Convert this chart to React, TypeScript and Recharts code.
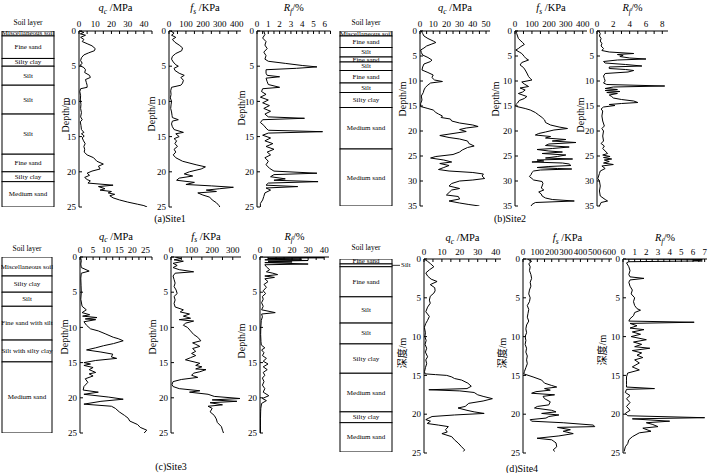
import React from 'react';
import { LineChart, Line, XAxis, YAxis, BarChart, Bar } from 'recharts';

const FONT = "'Liberation Serif', 'Times New Roman', 'Noto Sans CJK SC', serif";

type Pt = [number, number];

// ---------------- Site 1 ----------------
const site1Qc: Pt[] = [
  [0, 0.5], [0.2, 3], [0.4, 0.8], [0.6, 4], [0.9, 1], [1.2, 3], [1.5, 2], [1.8, 5], [2.1, 8], [2.5, 10], [2.8, 9.5],
  [3.1, 6], [3.4, 3], [3.8, 1.5], [4.2, 1], [4.6, 2], [4.9, 0.5], [5.2, 3], [5.5, 4], [5.9, 3.5], [6.3, 6.5], [6.6, 7],
  [6.9, 4], [7.3, 4.5], [7.7, 5], [8.0, 5], [8.2, 1], [8.6, 0.5], [9.2, 1], [9.8, 0.8], [10.4, 1.2], [11, 1], [11.6, 1.5],
  [12.2, 1], [12.6, 2], [12.9, 0.8], [13.4, 1.2], [14, 1.5], [14.4, 3], [14.6, 1.5], [14.9, 3.2], [15.2, 2], [15.6, 2.8],
  [16, 3.8], [16.4, 3], [16.8, 3.5], [17.2, 3.2], [17.6, 5], [18, 9], [18.5, 11], [18.9, 15], [19.2, 12], [19.6, 13],
  [19.9, 8], [20.2, 5], [20.5, 6.5], [20.8, 3.5], [21.1, 5], [21.3, 7], [21.6, 5.5], [21.9, 21], [22.1, 12], [22.4, 16],
  [22.6, 13], [22.8, 20], [23, 18], [23.2, 22], [23.4, 19], [23.7, 21], [24, 25], [24.3, 30], [24.6, 36], [24.8, 40], [25, 42],
];
const site1Fs: Pt[] = [
  [0, 10], [0.3, 30], [0.6, 15], [0.9, 40], [1.2, 20], [1.6, 35], [2.0, 60], [2.4, 80], [2.8, 75], [3.2, 40], [3.6, 20],
  [4.0, 15], [4.4, 25], [4.8, 40], [5.0, 55], [5.3, 30], [5.6, 35], [6.0, 60], [6.3, 90], [6.6, 70], [7.0, 85], [7.4, 80],
  [7.7, 70], [8.0, 15], [8.5, 10], [9, 12], [9.5, 8], [10, 15], [10.5, 12], [11, 10], [11.5, 15], [12, 18], [12.3, 20],
  [12.6, 55], [12.8, 20], [13.2, 15], [13.6, 20], [14, 30], [14.4, 85], [14.6, 40], [15, 60], [15.3, 30], [15.6, 45],
  [16, 35], [16.4, 50], [16.8, 30], [17.2, 40], [17.6, 25], [18, 40], [18.5, 80], [19, 160], [19.3, 215], [19.6, 190],
  [20, 120], [20.3, 90], [20.6, 140], [20.9, 60], [21.2, 45], [21.5, 150], [21.8, 100], [22, 250], [22.2, 380], [22.4, 300],
  [22.6, 220], [22.8, 280], [23.0, 170], [23.3, 200], [23.6, 240], [24, 255], [24.4, 280], [24.8, 295], [25, 300],
];
const site1Rf: Pt[] = [
  [0, 0.6], [0.5, 0.7], [1, 0.5], [1.5, 0.8], [2, 0.7], [2.5, 0.9], [3, 0.6], [3.5, 0.8], [4, 0.7], [4.3, 1.0], [4.6, 2.5],
  [4.9, 4.0], [5.1, 5.3], [5.3, 3.5], [5.5, 0.8], [6, 0.8], [6.3, 0.9], [6.5, 2.0], [6.7, 0.8], [7.2, 0.9], [7.6, 1.0],
  [8.0, 2.0], [8.2, 0.5], [8.6, 0.4], [9, 0.8], [9.4, 0.3], [9.8, 1.0], [10.2, 0.5], [10.6, 1.1], [11, 0.6], [11.4, 1.2],
  [11.8, 0.7], [12.2, 1.0], [12.4, 4.2], [12.6, 0.5], [13, 0.3], [13.4, 0.6], [13.8, 0.8], [14.1, 1.0], [14.3, 5.8],
  [14.5, 1.0], [14.8, 0.5], [15.2, 1.2], [15.6, 0.7], [16, 1.4], [16.4, 0.8], [16.8, 1.5], [17.2, 0.9], [17.6, 1.2],
  [18, 0.7], [18.5, 1.0], [19, 0.8], [19.5, 1.1], [19.9, 1.5], [20.2, 5.3], [20.4, 1.5], [20.7, 1.2], [21, 2.5], [21.2, 1.5],
  [21.4, 5.4], [21.6, 1.0], [21.9, 0.8], [22.1, 3.6], [22.3, 0.8], [22.6, 1.2], [23, 0.7], [23.5, 0.6], [24, 0.5],
  [24.5, 0.3], [25, 0.3],
];

// ---------------- Site 2 ----------------
const site2Qc: Pt[] = [
  [0, 1], [0.5, 2], [1, 3], [1.5, 6], [2, 10], [2.3, 12], [2.6, 9], [3, 5], [3.4, 3], [3.8, 0.5], [4.3, 1], [4.8, 2],
  [5.3, 6], [5.8, 9], [6.1, 8], [6.6, 3], [7.2, 2], [7.8, 1.5], [8.3, 6], [8.8, 10], [9.3, 9], [9.8, 11], [10.1, 17],
  [10.4, 8], [10.8, 6], [11.3, 4], [11.8, 3], [12.3, 2.5], [13, 1], [13.8, 1.5], [14.5, 0.5], [15.1, 0.5], [15.5, 6],
  [15.8, 10], [16.3, 12], [16.6, 14], [17, 17], [17.3, 16], [17.6, 23], [18, 24], [18.4, 30], [18.8, 40], [19.1, 44],
  [19.4, 35], [19.7, 30], [20.1, 35], [20.5, 25], [20.9, 15], [21.3, 22], [21.6, 30], [22, 36], [22.5, 37], [23, 41],
  [23.3, 36], [23.8, 32], [24.2, 30], [24.7, 25], [25.1, 12], [25.4, 8], [25.8, 18], [26.2, 24], [26.5, 15], [26.9, 22],
  [27.3, 18], [27.7, 14], [28, 22], [28.3, 40], [28.6, 48], [29, 47], [29.5, 49], [29.8, 40], [30, 30], [30.5, 24],
  [31, 22], [31.5, 30], [31.8, 24], [32.3, 22], [32.8, 20], [33.1, 29], [33.6, 30], [34, 22], [34.4, 30], [34.7, 37], [35, 45],
];
const site2Fs: Pt[] = [
  [0, 5], [0.5, 10], [1, 15], [1.5, 20], [2, 35], [2.3, 45], [2.7, 55], [3.1, 35], [3.5, 20], [3.8, 5], [4.2, 25], [4.5, 40],
  [5.1, 55], [5.5, 65], [5.8, 80], [6.3, 40], [6.8, 30], [7.3, 50], [7.8, 60], [8.4, 70], [9.1, 80], [9.5, 90], [9.8, 100],
  [10.2, 40], [10.6, 55], [11.1, 80], [11.4, 30], [11.8, 60], [12.2, 45], [12.5, 20], [13.1, 70], [13.5, 55], [13.9, 25],
  [14.4, 15], [14.8, 3], [15.1, 10], [15.5, 60], [15.8, 90], [16.3, 120], [16.8, 140], [17.3, 160], [17.8, 175], [18.3, 180],
  [18.8, 210], [19.2, 260], [19.5, 310], [19.8, 230], [20.2, 180], [20.5, 140], [20.8, 120], [21.1, 210], [21.4, 180],
  [21.7, 300], [22, 220], [22.3, 360], [22.6, 200], [22.9, 180], [23.2, 320], [23.5, 220], [23.7, 130], [24, 200],
  [24.2, 280], [24.5, 160], [24.8, 300], [25.1, 250], [25.4, 180], [25.6, 340], [25.8, 130], [26, 170], [26.2, 100],
  [26.4, 280], [26.6, 320], [26.9, 330], [27.1, 200], [27.3, 130], [27.5, 250], [27.6, 335], [27.8, 150], [28, 110],
  [28.3, 100], [28.7, 95], [29.1, 85], [29.5, 100], [29.8, 110], [30.1, 160], [30.5, 165], [31, 160], [31.4, 155],
  [31.8, 170], [32.2, 140], [32.6, 155], [33, 160], [33.4, 180], [33.7, 220], [34, 350], [34.3, 120], [34.7, 100], [35, 95],
];
const site2Rf: Pt[] = [
  [0, 0.2], [0.5, 0.4], [1, 0.3], [1.5, 0.5], [2, 0.4], [2.5, 0.6], [3, 0.5], [3.5, 0.8], [3.9, 0.6], [4.2, 1.5], [4.5, 4.5],
  [4.7, 2.5], [4.9, 3.2], [5.1, 2.8], [5.4, 4.0], [5.6, 6.0], [5.8, 2.5], [6.1, 0.8], [6.4, 1.0], [6.7, 3.5], [7.0, 5.5],
  [7.2, 1.5], [7.5, 1.5], [7.7, 3.5], [7.9, 4.5], [8.2, 3.8], [8.5, 1.0], [9, 0.8], [9.5, 0.9], [10, 1.0], [10.4, 0.8],
  [10.7, 1.2], [11.0, 8.3], [11.2, 2.0], [11.5, 1.0], [11.7, 2.5], [11.9, 1.0], [12.1, 2.8], [12.3, 1.2], [12.5, 2.5],
  [12.8, 1.5], [13.1, 1.8], [13.4, 2.0], [13.7, 3.0], [14.0, 4.5], [14.3, 5.0], [14.5, 3.0], [14.7, 1.5], [14.9, 2.2],
  [15.2, 0.8], [15.6, 0.5], [16, 0.7], [17, 0.6], [18, 0.7], [19, 0.9], [19.5, 0.6], [20, 0.8], [21, 0.7], [22, 0.8],
  [22.5, 0.5], [23, 0.9], [23.5, 0.7], [24, 1.0], [24.5, 1.3], [24.8, 0.7], [25.1, 1.6], [25.3, 0.8], [25.6, 1.8],
  [25.8, 0.9], [26.1, 1.5], [26.4, 0.8], [26.7, 2.0], [27, 0.6], [27.5, 1.0], [28, 0.4], [28.5, 0.3], [29, 0.2],
  [29.5, 0.1], [30, 0.3], [31, 0.4], [32, 0.3], [33, 0.4], [33.7, 1.0], [34, 1.3], [34.3, 0.5], [35, 0.3],
];

// ---------------- Site 3 ----------------
const site3Qc: Pt[] = [
  [0, 0.2], [0.5, 0.5], [1, 0.3], [1.5, 0.5], [2.0, 3.5], [2.3, 0.5], [3, 0.3], [4, 0.4], [5, 0.5], [6, 0.3], [7, 0.8],
  [7.5, 2.4], [7.9, 0.8], [8.2, 3.7], [8.4, 1.0], [8.6, 6.5], [8.8, 2.0], [8.9, 6.0], [9.2, 1.5], [9.7, 2.5], [10.2, 4],
  [10.5, 7], [10.9, 9.6], [11.4, 12.7], [11.6, 14.6], [11.9, 16.5], [12.3, 12.8], [12.6, 9], [12.9, 6], [13.2, 2.5],
  [13.5, 8], [13.8, 12.5], [14.2, 12], [14.4, 14], [14.7, 6], [15.0, 1.5], [15.2, 4], [15.4, 1.5], [15.7, 5], [16, 3.5],
  [16.4, 6], [16.6, 3.5], [16.9, 5], [17.3, 2], [17.8, 3], [18.4, 1.5], [18.9, 1.2], [19.2, 7], [19.5, 1.5], [19.9, 11],
  [20.2, 16.5], [20.5, 8], [20.9, 1.5], [21.2, 12], [21.5, 13.5], [22, 15], [22.5, 17], [22.9, 18.4], [23.3, 19], [23.8, 22],
  [24.2, 23], [24.6, 25.5], [25, 24.5],
];
const site3Fs: Pt[] = [
  [0, 20], [0.2, 50], [0.4, 15], [0.6, 60], [0.9, 10], [1.2, 30], [1.5, 10], [1.8, 40], [2.1, 110], [2.3, 20], [2.7, 10],
  [3.2, 15], [3.7, 20], [4.2, 15], [4.7, 25], [5.2, 30], [5.6, 15], [6.1, 20], [6.6, 15], [7.1, 20], [7.5, 60], [7.8, 45],
  [8.1, 90], [8.4, 60], [8.7, 95], [8.9, 40], [9.1, 110], [9.4, 70], [9.7, 60], [10.0, 80], [10.5, 95], [11, 110],
  [11.4, 130], [11.9, 145], [12.2, 105], [12.4, 120], [12.7, 140], [13, 105], [13.4, 120], [13.7, 100], [14, 120],
  [14.3, 95], [14.6, 70], [15.1, 140], [15.4, 120], [15.6, 150], [15.9, 120], [16, 170], [16.3, 140], [16.5, 110],
  [16.8, 100], [17.1, 130], [17.4, 50], [17.7, 10], [18.1, 5], [18.4, 10], [18.7, 40], [19, 140], [19.2, 90], [19.5, 180],
  [19.8, 210], [20.1, 335], [20.3, 200], [20.5, 320], [20.7, 190], [21, 250], [21.2, 180], [21.5, 200], [22, 190],
  [22.5, 210], [23, 220], [23.5, 225], [24.1, 245], [24.6, 250], [25, 255],
];
const site3Rf: Pt[] = [
  [0, 2], [0.1, 40], [0.2, 5], [0.3, 26], [0.4, 3], [0.5, 30], [0.6, 5], [0.7, 20], [0.8, 3], [1.0, 30], [1.1, 3], [1.4, 4],
  [1.8, 6], [2.1, 4], [2.3, 8], [2.5, 11], [2.7, 3], [2.9, 9], [3.1, 3], [3.5, 5], [3.9, 2.5], [4.3, 4], [4.8, 2], [5.2, 3.5],
  [5.6, 1.5], [6, 2], [6.5, 1], [7, 2], [7.5, 1], [7.9, 9.5], [8.1, 1], [8.5, 1.5], [9, 0.8], [10, 0.5], [11, 0.4],
  [12, 0.6], [12.5, 0.8], [12.9, 3], [13.2, 1], [13.6, 2.5], [14, 1.5], [14.4, 4], [14.8, 2], [15.2, 5], [15.6, 2],
  [16, 4.5], [16.4, 2], [16.8, 3], [17.2, 1.5], [17.7, 2.5], [18.2, 1.5], [18.7, 3], [19.2, 2], [19.7, 5.5], [20.1, 1.5],
  [20.4, 4], [20.8, 1], [21.5, 0.5], [22, 0.4], [23, 0.3], [24, 0.3], [25, 0.3],
];

// ---------------- Site 4 ----------------
const site4Qc: Pt[] = [
  [0, 0], [0.3, 2], [0.6, 3.6], [1.0, 5.5], [1.4, 3], [1.8, 1], [2.2, 2], [2.6, 4], [2.9, 7.3], [3.3, 3.5], [3.7, 6],
  [4.1, 6.2], [4.4, 5.5], [4.8, 3.5], [5.3, 3], [5.7, 3.5], [6.2, 2], [6.8, 1], [7.4, 3], [7.9, 2], [8.3, 1], [8.8, 0.2],
  [9.5, 0.8], [10, 0.5], [10.5, 1.2], [11, 0.6], [11.5, 1.5], [12, 0.8], [12.6, 2], [13, 1], [13.5, 1.5], [14, 0.8],
  [14.5, 0.3], [14.8, 0.5], [14.9, 6.4], [15, 12.7], [15.2, 15.5], [15.4, 17], [15.6, 21], [16, 24.5], [16.4, 26.4],
  [16.7, 24], [16.85, 2.7], [17, 20], [17.2, 28], [17.5, 30], [17.7, 33], [18, 38.2], [18.3, 33], [18.6, 25], [19, 23],
  [19.2, 19], [19.5, 24], [19.7, 28], [19.9, 33.6], [20.1, 17], [20.3, 4.5], [20.5, 2.7], [20.7, 1], [20.9, 3.6],
  [21.2, 1.8], [21.4, 8], [21.6, 13.6], [22, 12], [22.3, 13], [22.5, 10], [22.9, 15.5], [23.3, 17], [23.7, 19],
  [24.2, 21], [24.6, 22.7], [24.8, 22],
];
const site4Fs: Pt[] = [
  [0, 30], [0.3, 60], [0.6, 40], [1, 50], [1.5, 45], [2, 55], [2.5, 60], [3, 50], [3.5, 55], [4, 45], [4.5, 40], [5, 50],
  [5.5, 45], [6, 30], [6.5, 40], [7, 35], [7.5, 30], [8, 40], [8.5, 25], [9, 20], [9.5, 25], [10, 15], [10.5, 20], [11, 15],
  [11.5, 25], [12, 20], [12.5, 30], [13, 25], [13.5, 30], [14, 20], [14.5, 10], [14.8, 5], [15.2, 70], [15.6, 130],
  [16, 150], [16.3, 200], [16.5, 235], [16.7, 150], [16.9, 190], [17.1, 90], [17.3, 60], [17.5, 220], [17.7, 140],
  [18, 150], [18.4, 190], [18.8, 180], [19, 100], [19.2, 80], [19.5, 200], [19.7, 230], [19.9, 130], [20.1, 250],
  [20.3, 180], [20.5, 160], [20.7, 50], [20.9, 60], [21.1, 280], [21.4, 490], [21.6, 500], [21.7, 240], [22, 330],
  [22.2, 280], [22.5, 350], [22.8, 250], [23.1, 98], [23.3, 200], [23.7, 230], [24.2, 235], [24.6, 210], [24.8, 222],
];
const site4Rf: Pt[] = [
  [0, 0.2], [0.05, 6.8], [0.15, 6.0], [0.25, 6.8], [0.35, 0.5], [0.5, 0.3], [1, 0.5], [1.5, 0.6], [2, 0.5], [2.3, 0.6],
  [2.5, 1.8], [2.7, 0.6], [3, 0.5], [3.5, 0.6], [4, 0.8], [4.5, 0.7], [5, 1.0], [5.5, 0.9], [6, 1.0], [6.4, 1.2], [6.6, 1.5],
  [6.9, 1.0], [7.3, 0.9], [7.7, 0.6], [8, 0.5], [8.15, 6.1], [8.3, 0.6], [8.6, 1.2], [8.9, 0.6], [9.1, 1.8], [9.4, 0.8],
  [9.7, 1.5], [10, 0.7], [10.4, 2.0], [10.7, 0.9], [11, 1.6], [11.3, 1.0], [11.5, 2.3], [11.8, 0.8], [12.1, 1.6],
  [12.4, 1.2], [12.7, 1.7], [13, 1.0], [13.4, 1.4], [13.9, 0.8], [14.3, 1.4], [14.7, 0.4], [15.2, 0.3], [15.7, 0.3],
  [16.2, 0.3], [16.5, 0.3], [16.7, 2.7], [16.8, 0.3], [17.2, 0.2], [17.6, 0.6], [18, 0.3], [18.5, 0.6], [19, 0.3],
  [19.5, 0.6], [19.9, 0.2], [20.2, 0.4], [20.45, 7.0], [20.6, 0.8], [20.9, 4.0], [21.1, 2.0], [21.3, 2.5], [21.6, 3.0],
  [21.8, 1.7], [22.2, 2.4], [22.4, 1.4], [22.9, 0.8], [23.3, 0.5], [23.8, 0.4], [24.2, 0.2], [24.8, 0.1],
];

// ---------------- Soil layers ----------------
const site1SoilNames = ['Miscellaneous soil', 'Fine sand', 'Silty clay', 'Silt', 'Silt', 'Silt', 'Fine sand', 'Silty clay', 'Medium sand'];
const site1SoilBottoms = [0.7, 3.9, 5.0, 7.7, 11.8, 17.5, 20.0, 21.4, 25];
const site2SoilNames = ['Miscellaneous soil', 'Fine sand', 'Silt', 'Fine sand', 'Silt', 'Fine sand', 'Silt', 'Silty clay', 'Medium sand', 'Medium sand'];
const site2SoilBottoms = [1.0, 3.3, 5.2, 6.2, 7.9, 10.4, 12.3, 15.3, 23.6, 35];
const site3SoilNames = ['Miscellaneous soil', 'Silty clay', 'Silt', 'Fine sand with silt', 'Silt with silty clay', 'Medium sand'];
const site3SoilBottoms = [2.7, 5.0, 7.0, 11.8, 14.9, 25];
const site4SoilNames = ['Fine sand', 'Silt', 'Fine sand', 'Silt', 'Silt', 'Silty clay', 'Medium sand', 'Silty clay', 'Medium sand'];
const site4SoilBottoms = [0.64, 1.0, 4.9, 8.3, 11.0, 14.8, 19.8, 21.2, 25];
const site4CalloutLayer = 1;

// ---------------- Ticks ----------------
const depth25Ticks = [0, 5, 10, 15, 20, 25];
const depth35Ticks = [0, 5, 10, 15, 20, 25, 30, 35];
const site1QcTicks = [0, 5, 10, 15, 20, 25, 30, 35, 40, 45];
const site1QcLabels = [0, 10, 20, 30, 40];
const fs400Ticks = [0, 50, 100, 150, 200, 250, 300, 350, 400];
const fs400Labels = [0, 100, 200, 300, 400];
const site1RfTicks = [0, 0.5, 1, 1.5, 2, 2.5, 3, 3.5, 4, 4.5, 5, 5.5, 6, 6.5];
const site1RfLabels = [0, 1, 2, 3, 4, 5, 6];
const site2QcTicks = [0, 5, 10, 15, 20, 25, 30, 35, 40, 45, 50];
const site2QcLabels = [0, 10, 20, 30, 40, 50];
const site2RfTicks = [0, 1, 2, 3, 4, 5, 6, 7, 8];
const site2RfLabels = [0, 2, 4, 6, 8];
const site3QcTicks = [0, 2.5, 5, 7.5, 10, 12.5, 15, 17.5, 20, 22.5, 25, 27.5];
const site3QcLabels = [0, 5, 10, 15, 20, 25];
const site3FsTicks = [0, 50, 100, 150, 200, 250, 300];
const site3FsLabels = [0, 100, 200, 300];
const site3RfTicks = [0, 5, 10, 15, 20, 25, 30, 35, 40];
const site3RfLabels = [0, 10, 20, 30, 40];
const site4QcTicks = [0, 5, 10, 15, 20, 25, 30, 35, 40];
const site4QcLabels = [0, 10, 20, 30, 40];
const site4FsTicks = [0, 50, 100, 150, 200, 250, 300, 350, 400, 450, 500, 550, 600];
const site4FsLabels = [0, 100, 200, 300, 400, 500, 600];
const site4RfTicks = [0, 0.5, 1, 1.5, 2, 2.5, 3, 3.5, 4, 4.5, 5, 5.5, 6, 6.5, 7];
const site4RfLabels = [0, 1, 2, 3, 4, 5, 6, 7];

type Title = { main: string; sub: string; unit: string };
const QC: Title = { main: 'q', sub: 'c', unit: '\u00A0/MPa' };
const FS: Title = { main: 'f', sub: 's', unit: '\u00A0/KPa' };
const RF: Title = { main: 'R', sub: 'f', unit: '/%' };

interface ProfileProps {
  pts: Pt[];
  left: number; top: number; w: number; h: number;
  xMax: number; xTicks: number[]; xLabels: number[];
  dMax: number; dTicks: number[];
  title: Title; titleY: number;
  yLabel: string; yLabelX: number; yLabelY: number;
}

const AX = 38;
const AY = 36;

function Profile(p: ProfileProps) {
  const data = p.pts.map(([d, v]) => ({ d, v }));
  const toX = (X: number) => X - p.left + AY;
  const toY = (Y: number) => Y - p.top + AX;
  return (
    <div style={{ position: 'absolute', left: p.left - AY, top: p.top - AX }}>
      <LineChart
        layout="vertical"
        width={p.w + AY + 6}
        height={p.h + AX + 6}
        data={data}
        margin={{ top: 0, left: 0, right: 6, bottom: 6 }}
      >
        <XAxis
          type="number"
          orientation="top"
          domain={[0, p.xMax]}
          allowDataOverflow
          ticks={p.xTicks}
          interval={0}
          height={AX}
          tickSize={-3}
          tickMargin={7}
          stroke="#000"
          tick={{ fontSize: 9, fill: '#000', fontFamily: FONT }}
          tickFormatter={(v: number) => (p.xLabels.includes(v) ? String(v) : '')}
          label={{
            content: () => (
              <text x={toX(p.left + p.w / 2)} y={toY(p.titleY) + 4} textAnchor="middle" fontFamily={FONT} fontSize={10.5} fill="#000">
                <tspan fontStyle="italic">{p.title.main}</tspan>
                <tspan fontStyle="italic" fontSize={7.5} dy={2.5}>{p.title.sub}</tspan>
                <tspan dy={-2.5}>{p.title.unit}</tspan>
              </text>
            ),
          }}
        />
        <YAxis
          type="number"
          dataKey="d"
          domain={[0, p.dMax]}
          allowDataOverflow
          ticks={p.dTicks}
          interval={0}
          width={AY}
          tickSize={-3}
          tickMargin={6}
          stroke="#000"
          tick={{ fontSize: 9, fill: '#000', fontFamily: FONT }}
          label={{
            content: () => (
              <text
                transform={`translate(${toX(p.yLabelX)}, ${toY(p.yLabelY)}) rotate(-90)`}
                textAnchor="middle"
                dominantBaseline="central"
                fontFamily={FONT}
                fontSize={10}
                fill="#000"
              >
                {p.yLabel}
              </text>
            ),
          }}
        />
        <Line type="linear" dataKey="v" stroke="#000" strokeWidth={1} dot={false} isAnimationActive={false} />
      </LineChart>
    </div>
  );
}

interface SoilProps {
  left: number; top: number; w: number; h: number; dMax: number;
  names: string[]; bottoms: number[]; callout?: number;
}

function SoilColumn(s: SoilProps) {
  const row: Record<string, number | string> = { k: 'col' };
  let prev = 0;
  s.bottoms.forEach((b, i) => {
    row['l' + i] = +(b - prev).toFixed(3);
    prev = b;
  });
  return (
    <div style={{ position: 'absolute', left: s.left - 1, top: s.top - 1 }}>
      <BarChart
        width={s.w + 22}
        height={s.h + 2}
        data={[row]}
        margin={{ top: 1, right: 21, bottom: 1, left: 1 }}
        barCategoryGap={0}
        barGap={0}
      >
        <XAxis dataKey="k" type="category" hide />
        <YAxis type="number" domain={[0, s.dMax]} reversed hide allowDataOverflow />
        {s.names.map((n, i) => (
          <Bar
            key={i}
            dataKey={'l' + i}
            stackId="s"
            isAnimationActive={false}
            shape={(sp: any) => {
              const x = sp.x as number;
              const wd = sp.width as number;
              const y0 = Math.min(sp.y, sp.y + sp.height);
              const hh = Math.abs(sp.height);
              const cy = y0 + hh / 2;
              return (
                <g>
                  <rect x={x} y={y0} width={wd} height={hh} fill="#fff" stroke="#000" strokeWidth={1} />
                  {s.callout === i ? (
                    <g>
                      <line x1={x + wd} y1={cy} x2={x + wd + 8} y2={cy} stroke="#000" strokeWidth={0.8} />
                      <text x={x + wd + 9} y={cy} dominantBaseline="central" fontFamily={FONT} fontSize={7} style={{ fill: '#000' }} stroke="none">
                        {n}
                      </text>
                    </g>
                  ) : (
                    <text x={x + wd / 2} y={cy} textAnchor="middle" dominantBaseline="central" fontFamily={FONT} fontSize={7} style={{ fill: '#000' }} stroke="none">
                      {n}
                    </text>
                  )}
                </g>
              );
            }}
          />
        ))}
      </BarChart>
    </div>
  );
}

const DEPTH = 'Depth/m';
const DEPTH_CN = '深度/m';

export default function App() {
  return (
    <div style={{ position: 'absolute', left: 0, top: 0, width: 708, height: 473, background: '#fff', overflow: 'hidden' }}>
      {/* Site 1 */}
      <SoilColumn left={2} top={31} w={52} h={176} dMax={25} names={site1SoilNames} bottoms={site1SoilBottoms} />
      <Profile pts={site1Qc} left={79} top={31} w={73} h={176} xMax={45} xTicks={site1QcTicks} xLabels={site1QcLabels}
        dMax={25} dTicks={depth25Ticks} title={QC} titleY={7} yLabel={DEPTH} yLabelX={65} yLabelY={115} />
      <Profile pts={site1Fs} left={169} top={31} w={72} h={176} xMax={425} xTicks={fs400Ticks} xLabels={fs400Labels}
        dMax={25} dTicks={depth25Ticks} title={FS} titleY={7} yLabel={DEPTH} yLabelX={151} yLabelY={114} />
      <Profile pts={site1Rf} left={257} top={31} w={73.5} h={176} xMax={6.5} xTicks={site1RfTicks} xLabels={site1RfLabels}
        dMax={25} dTicks={depth25Ticks} title={RF} titleY={7} yLabel={DEPTH} yLabelX={241} yLabelY={108} />

      {/* Site 2 */}
      <SoilColumn left={340} top={31} w={52} h={175} dMax={35} names={site2SoilNames} bottoms={site2SoilBottoms} />
      <Profile pts={site2Qc} left={420} top={31} w={70} h={175} xMax={53} xTicks={site2QcTicks} xLabels={site2QcLabels}
        dMax={35} dTicks={depth35Ticks} title={QC} titleY={7} yLabel={DEPTH} yLabelX={402} yLabelY={99} />
      <Profile pts={site2Fs} left={515} top={31} w={72} h={175} xMax={425} xTicks={fs400Ticks} xLabels={fs400Labels}
        dMax={35} dTicks={depth35Ticks} title={FS} titleY={7} yLabel={DEPTH} yLabelX={495} yLabelY={99} />
      <Profile pts={site2Rf} left={597} top={31} w={71} h={175} xMax={8.7} xTicks={site2RfTicks} xLabels={site2RfLabels}
        dMax={35} dTicks={depth35Ticks} title={RF} titleY={7} yLabel={DEPTH} yLabelX={580} yLabelY={115} />

      {/* Site 3 */}
      <SoilColumn left={2} top={257} w={50} h={176} dMax={25} names={site3SoilNames} bottoms={site3SoilBottoms} />
      <Profile pts={site3Qc} left={80} top={257} w={72} h={176} xMax={27.5} xTicks={site3QcTicks} xLabels={site3QcLabels}
        dMax={25} dTicks={depth25Ticks} title={QC} titleY={235.5} yLabel={DEPTH} yLabelX={64} yLabelY={337} />
      <Profile pts={site3Fs} left={171} top={257} w={70} h={176} xMax={340} xTicks={site3FsTicks} xLabels={site3FsLabels}
        dMax={25} dTicks={depth25Ticks} title={FS} titleY={235.5} yLabel={DEPTH} yLabelX={152} yLabelY={337} />
      <Profile pts={site3Rf} left={260} top={257} w={69} h={176} xMax={43} xTicks={site3RfTicks} xLabels={site3RfLabels}
        dMax={25} dTicks={depth25Ticks} title={RF} titleY={235.5} yLabel={DEPTH} yLabelX={241} yLabelY={341} />

      {/* Site 4 */}
      <SoilColumn left={340} top={259} w={52} h={193} dMax={25} names={site4SoilNames} bottoms={site4SoilBottoms} callout={site4CalloutLayer} />
      <Profile pts={site4Qc} left={424} top={259} w={77} h={194} xMax={43} xTicks={site4QcTicks} xLabels={site4QcLabels}
        dMax={25} dTicks={depth25Ticks} title={QC} titleY={237} yLabel={DEPTH_CN} yLabelX={402} yLabelY={353} />
      <Profile pts={site4Fs} left={523} top={259} w={89} h={194} xMax={620} xTicks={site4FsTicks} xLabels={site4FsLabels}
        dMax={25} dTicks={depth25Ticks} title={FS} titleY={237} yLabel={DEPTH_CN} yLabelX={502} yLabelY={353} />
      <Profile pts={site4Rf} left={623} top={259} w={84} h={194} xMax={7.2} xTicks={site4RfTicks} xLabels={site4RfLabels}
        dMax={25} dTicks={depth25Ticks} title={RF} titleY={237} yLabel={DEPTH_CN} yLabelX={602} yLabelY={350} />

      {/* Headings and captions */}
      <svg width={708} height={473} style={{ position: 'absolute', left: 0, top: 0, pointerEvents: 'none' }}>
        <g fontFamily={FONT} fill="#000" textAnchor="middle">
          <text x={28} y={24.5} fontSize={7.5}>Soil layer</text>
          <text x={366} y={24.5} fontSize={7.5}>Soil layer</text>
          <text x={27} y={250.5} fontSize={7.5}>Soil layer</text>
          <text x={366} y={249.5} fontSize={7.5}>Soil layer</text>
          <text x={170} y={222} fontSize={10}>(a)Site1</text>
          <text x={510} y={222} fontSize={10}>(b)Site2</text>
          <text x={171} y={470} fontSize={10}>(c)Site3</text>
          <text x={522} y={472} fontSize={10}>(d)Site4</text>
        </g>
      </svg>
    </div>
  );
}
